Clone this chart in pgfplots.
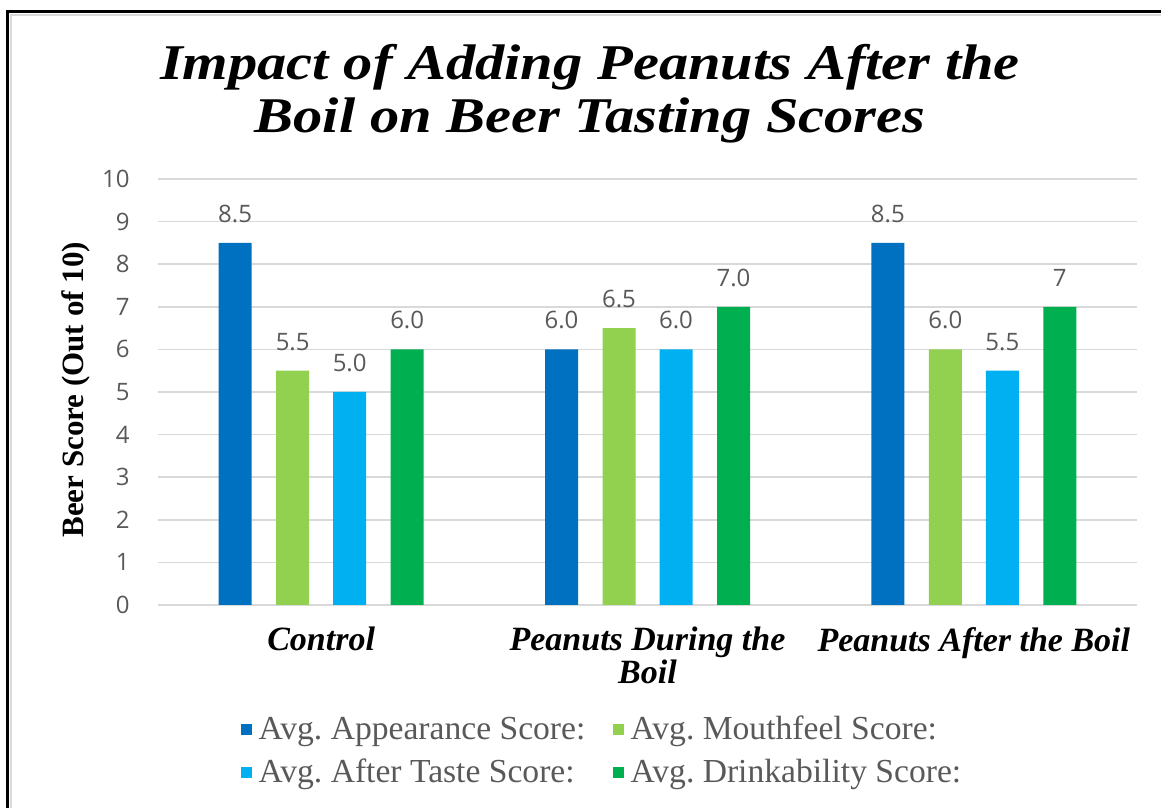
\documentclass[border=0pt]{standalone}
\usepackage{pgfplots}
\usepackage{pgfplotstable}
\usepackage{graphicx}
\usepackage{fontspec}
\pgfplotsset{compat=1.18}
\setmainfont{Liberation Serif}
\newfontfamily\sansf{Open Sans}
\definecolor{cA}{HTML}{0070C0}
\definecolor{cB}{HTML}{92D050}
\definecolor{cC}{HTML}{00B0F0}
\definecolor{cD}{HTML}{00B050}
\definecolor{txtgray}{HTML}{595959}
\definecolor{gridgray}{HTML}{D9D9D9}

\pgfplotstableread{
x a al b bl c cl d dl
0 8.5 8.5 5.5 5.5 5.0 5.0 6.0 6.0
1 6.0 6.0 6.5 6.5 6.0 6.0 7.0 7.0
2 8.5 8.5 6.0 6.0 5.5 5.5 7.0 7
}\scores

\begin{document}
\frenchspacing
\begin{tikzpicture}
\useasboundingbox (0,0) rectangle (580.5pt,404pt);
\draw[gridgray, line width=1pt] (5.5pt,0) -- (5.5pt,396.5pt) -- (580.5pt,396.5pt);
\draw[black, line width=1.5pt] (3.5pt,0) -- (3.5pt,398pt) -- (580.5pt,398pt);
\node[font=\bfseries\itshape\fontsize{25}{30}\selectfont, anchor=base] at (295pt,364pt) {\scalebox{1.17}[1]{Impact of Adding Peanuts After the}};
\node[font=\bfseries\itshape\fontsize{25}{30}\selectfont, anchor=base] at (295pt,337.5pt) {\scalebox{1.17}[1]{Boil on Beer Tasting Scores}};
\begin{axis}[
  at={(79pt,101.5pt)}, anchor=south west,
  scale only axis, width=489.5pt, height=213pt,
  xmin=-0.5, xmax=2.5, ymin=0, ymax=10,
  ytick={0,1,...,10}, xtick={0,1,2},
  xticklabels={Control,{Peanuts During the\\Boil},Peanuts After the Boil},
  major tick length=0pt,
  axis line style={draw=none},
  ymajorgrids, grid style={gridgray, line width=0.8pt},
  /pgf/number format/assume math mode=true,
  yticklabel style={font=\sansf\fontsize{12}{14}\selectfont, text=txtgray, anchor=east, inner sep=0pt, xshift=-14pt},
  xticklabel style={font=\bfseries\itshape\fontsize{17}{15}\selectfont, text=black, align=center, anchor=north, inner sep=0pt, yshift=-11pt},
  ylabel={Beer Score (Out of 10)},
  ylabel style={font=\bfseries\fontsize{15.5}{18}\selectfont, at={(axis description cs:-0.0835,0.505)}, anchor=center, rotate=0},
  ybar, bar width=16.5pt,
  point meta=explicit symbolic,
  nodes near coords,
  every node near coord/.append style={font=\sansf\fontsize{12}{14}\selectfont, text=txtgray, anchor=center, yshift=14.5pt},
  legend columns=2,
  legend cell align=left,
  legend style={draw=none, fill=none, at={(axis description cs:0.0848,-0.251)}, anchor=north west, inner sep=0pt,
    font=\frenchspacing\fontsize{16.8}{19}\selectfont, text=txtgray, row sep=4pt,
    /tikz/every even column/.append style={column sep=12pt}},
  legend image code/.code={\fill[#1] (0pt,-2.6pt) rectangle (5.2pt,2.6pt); \path (6.6pt,0pt);},
]
\addplot[fill=cA, draw=none, bar shift=-43pt] table[x=x, y=a, meta=al] {\scores};
\addplot[fill=cB, draw=none, bar shift=-14.25pt] table[x=x, y=b, meta=bl] {\scores};
\addplot[fill=cC, draw=none, bar shift=14.25pt] table[x=x, y=c, meta=cl] {\scores};
\addplot[fill=cD, draw=none, bar shift=43pt] table[x=x, y=d, meta=dl] {\scores};
\legend{Avg. Appearance Score:, Avg. Mouthfeel Score:, Avg. After Taste Score:, Avg. Drinkability Score:}
\end{axis}
\end{tikzpicture}
\end{document}
